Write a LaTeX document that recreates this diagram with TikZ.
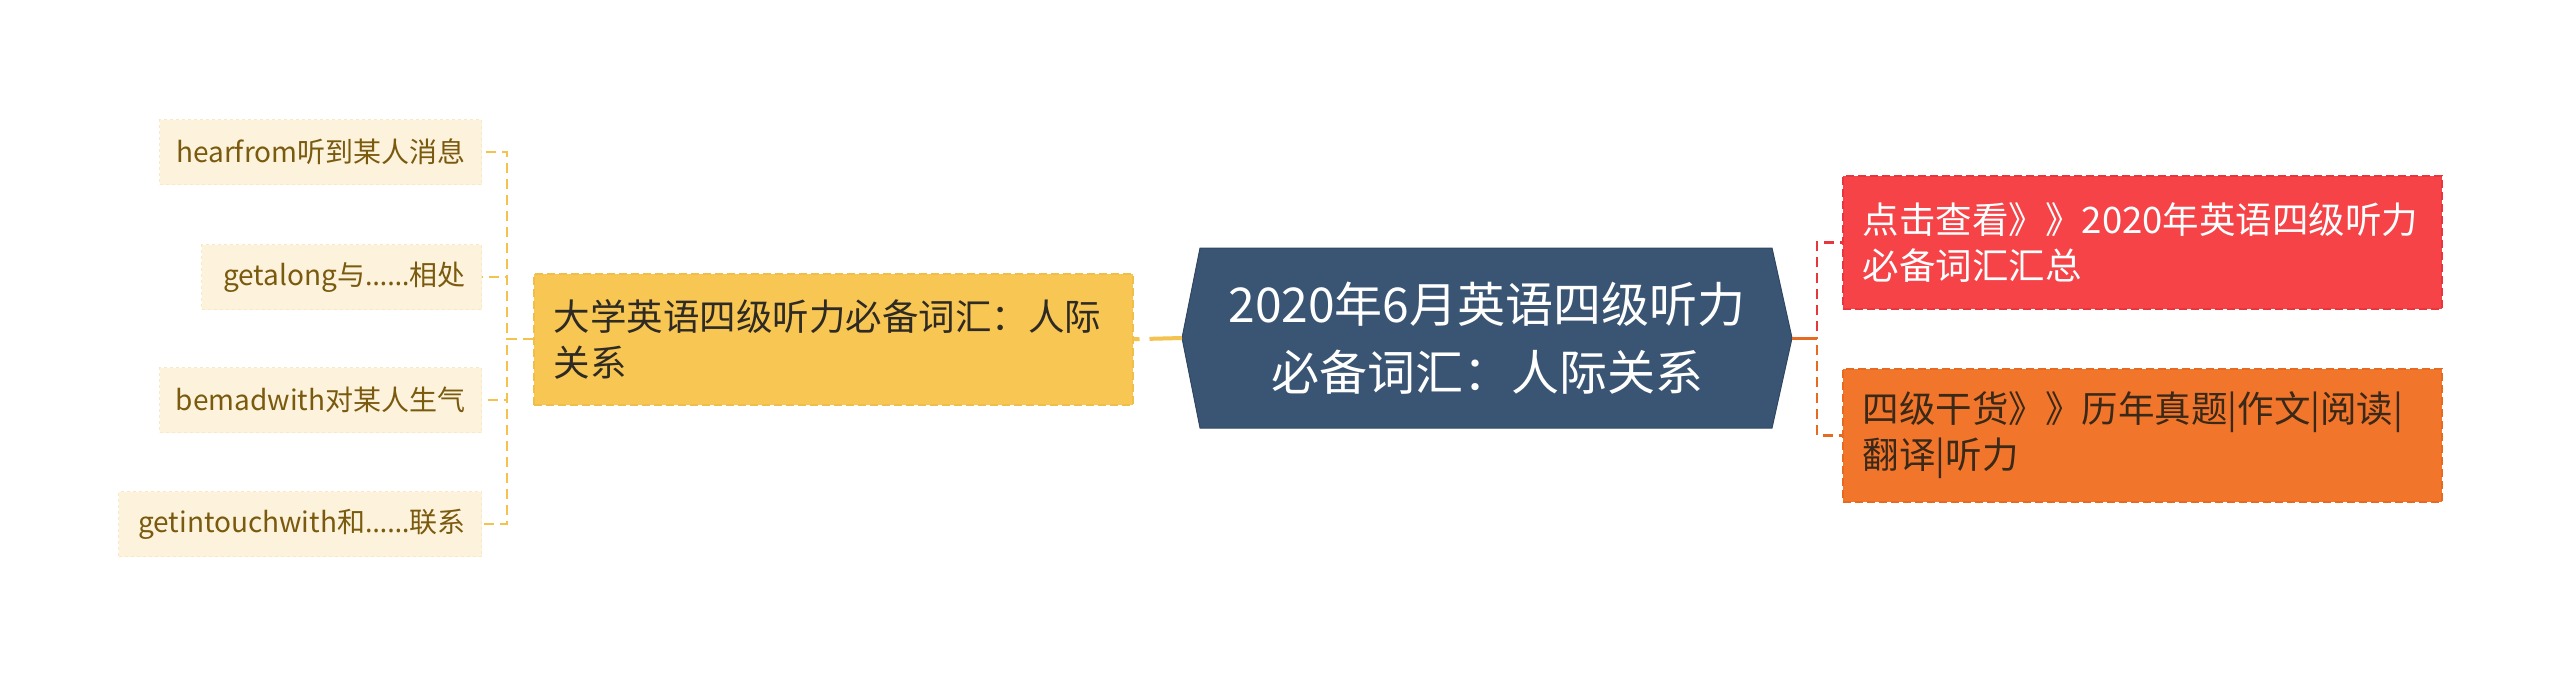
\documentclass[tikz,border=0pt]{standalone}
\usepackage{fontspec}
\setmainfont{Noto Sans CJK SC}
\newfontfamily\latinfont{Noto Sans}
\definecolor{leaffill}{HTML}{FDF3DC}
\definecolor{leaftext}{HTML}{7A5A0E}
\definecolor{leafline}{HTML}{F8E8C4}
\definecolor{yelfill}{HTML}{F8C653}
\definecolor{yelline}{HTML}{F0BE4A}
\definecolor{yelconn}{HTML}{F3C24F}
\definecolor{navyfill}{HTML}{3A5573}
\definecolor{navyline}{HTML}{2F4862}
\definecolor{redfill}{HTML}{F54347}
\definecolor{redline}{HTML}{E8363C}
\definecolor{orfill}{HTML}{F1762B}
\definecolor{orline}{HTML}{E66A22}
\definecolor{darktext}{HTML}{2E2A24}
\definecolor{ortext}{HTML}{3A2818}
\tikzset{
  leaf/.style={fill=leaffill, draw=leafline, dashed, line width=1pt, minimum height=65pt,
    inner xsep=16pt, inner ysep=0pt, align=right, anchor=east, text=leaftext,
    font=\fontsize{28}{34}\selectfont},
  bigbox/.style={line width=1.5pt, dash pattern=on 8pt off 4pt, anchor=north west,
    minimum width=599pt, minimum height=133pt, text width=559pt, inner xsep=20pt,
    inner ysep=0pt, align=left, font=\fontsize{36.5}{46}\selectfont},
  yconn/.style={draw=yelconn, line width=2pt, dash pattern=on 10pt off 6pt},
  yconnthick/.style={draw=yelconn, line width=4pt, dash pattern=on 6pt off 10pt on 36pt off 0pt},
  rconn/.style={draw=redline, line width=2.5pt, dash pattern=on 10pt off 6pt},
  oconn/.style={draw=orline, line width=2.5pt, dash pattern=on 10pt off 6pt},
}
\begin{document}
\begin{tikzpicture}[x=1pt, y=-1pt]
\useasboundingbox (0,0) rectangle (2560,677);
\fill[white] (0,0) rectangle (2560,677);
% centre hexagon
\coordinate (cl) at (1182,338);
\coordinate (cr) at (1792,338);
\filldraw[fill=navyfill, draw=navyline, line width=1pt]
  (cl) -- (1200,248) -- (1772,248) -- (cr) -- (1772,428) -- (1200,428) -- cycle;
\node[text=white, align=center, font=\fontsize{48}{68}\selectfont] (c) at (1487,338)
  {2020年6月英语四级听力\\必备词汇：人际关系};
% yellow branch
\node[bigbox, fill=yelfill, draw=yelline, text=darktext, minimum height=131pt] (y) at (533,273)
  {大学英语四级听力必备词汇：人际\\关系};
% leaves
\node[leaf, text width=290pt] (l1) at (482,152) {hearfrom听到某人消息};
\node[leaf, text width=248pt] (l2) at (482,277) {getalong与{\latinfont ……}相处};
\node[leaf, text width=290pt] (l3) at (482,400) {bemadwith对某人生气};
\node[leaf, text width=331pt] (l4) at (482,524) {getintouchwith和{\latinfont ……}联系};
% right boxes
\node[bigbox, fill=redfill, draw=redline, text=white] (r) at (1842,175)
  {点击查看》》2020年英语四级听力\\必备词汇汇总};
\node[bigbox, fill=orfill, draw=orline, text=ortext] (o) at (1842,368)
  {四级干货》》历年真题|作文|阅读|\\翻译|听力};
% connectors
\foreach \n in {l1,l2,l3,l4}
  \draw[yconn] (y.west) -- ++(-26,0) |- (\n.east);
\draw[yconnthick] (y.east) -- (cl);
\draw[rconn] (cr) -- ++(25,0) |- (r.west);
\draw[oconn] (cr) -- ++(25,0) |- (o.west);
\draw[draw=orline, line width=3pt] (cr) -- ++(25,0);
\end{tikzpicture}
\end{document}
